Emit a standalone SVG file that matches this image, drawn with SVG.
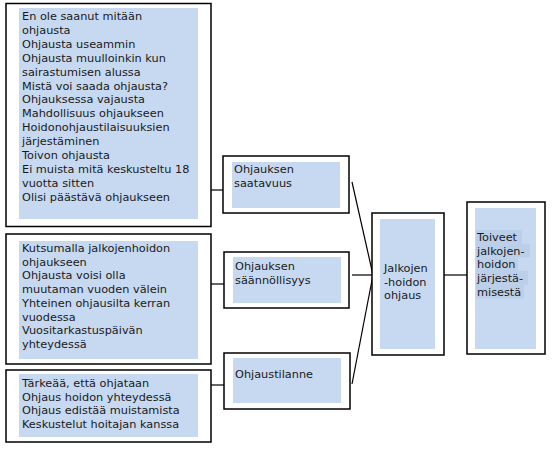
<svg xmlns="http://www.w3.org/2000/svg" width="553" height="450" viewBox="0 0 553 450">
<style>
.box{fill:#ffffff;stroke:#000000;stroke-width:1.5}
.fill{fill:#c6d9f1}
.hl{fill:#bccfe8}
.t{font-family:"DejaVu Sans",Verdana,sans-serif;font-size:11.3px;fill:#1a1a1a}
.c{stroke:#000000;stroke-width:1.2;fill:none}
</style>
<rect width="553" height="450" fill="#ffffff"/>
<g id="connectors">
<line class="c" x1="211" y1="190" x2="223" y2="190"/>
<line class="c" x1="211" y1="284" x2="224" y2="284"/>
<line class="c" x1="211" y1="385" x2="224" y2="385"/>
<line class="c" x1="352" y1="182" x2="373" y2="275"/>
<line class="c" x1="352" y1="275" x2="373" y2="275"/>
<line class="c" x1="352" y1="384" x2="373" y2="275"/>
<line class="c" x1="444" y1="275" x2="467" y2="275"/>
</g>
<g id="box-comments-1">
<rect class="box" x="6" y="3.5" width="205" height="223"/>
<rect class="fill" x="19" y="8" width="179" height="211"/>
<text class="t" x="22" y="20">En ole saanut mitään</text>
<text class="t" x="22" y="33.9">ohjausta</text>
<text class="t" x="22" y="47.8">Ohjausta useammin</text>
<text class="t" x="22" y="61.7">Ohjausta muulloinkin kun</text>
<text class="t" x="22" y="75.6">sairastumisen alussa</text>
<text class="t" x="22" y="89.5">Mistä voi saada ohjausta?</text>
<text class="t" x="22" y="103.4">Ohjauksessa vajausta</text>
<text class="t" x="22" y="117.3">Mahdollisuus ohjaukseen</text>
<text class="t" x="22" y="131.2">Hoidonohjaustilaisuuksien</text>
<text class="t" x="22" y="145.1">järjestäminen</text>
<text class="t" x="22" y="159">Toivon ohjausta</text>
<text class="t" x="22" y="172.9">Ei muista mitä keskusteltu 18</text>
<text class="t" x="22" y="186.8">vuotta sitten</text>
<text class="t" x="22" y="200.7">Olisi päästävä ohjaukseen</text>
</g>
<g id="box-comments-2">
<rect class="box" x="6" y="234" width="205" height="130"/>
<rect class="fill" x="19" y="241" width="179" height="118"/>
<text class="t" x="22" y="252">Kutsumalla jalkojenhoidon</text>
<text class="t" x="22" y="265.7">ohjaukseen</text>
<text class="t" x="22" y="279.4">Ohjausta voisi olla</text>
<text class="t" x="22" y="293.1">muutaman vuoden välein</text>
<text class="t" x="22" y="306.8">Yhteinen ohjausilta kerran</text>
<text class="t" x="22" y="320.5">vuodessa</text>
<text class="t" x="22" y="334.2">Vuositarkastuspäivän</text>
<text class="t" x="22" y="347.9">yhteydessä</text>
</g>
<g id="box-comments-3">
<rect class="box" x="6" y="370" width="205" height="72"/>
<rect class="fill" x="19" y="374" width="179" height="63"/>
<text class="t" x="22" y="387">Tärkeää, että ohjataan</text>
<text class="t" x="22" y="400.7">Ohjaus hoidon yhteydessä</text>
<text class="t" x="22" y="414.4">Ohjaus edistää muistamista</text>
<text class="t" x="22" y="428.1">Keskustelut hoitajan kanssa</text>
</g>
<g id="node-saatavuus">
<rect class="box" x="223" y="156" width="126" height="57"/>
<rect class="fill" x="232" y="162" width="108" height="46"/>
<text class="t" x="234" y="173">Ohjauksen</text>
<text class="t" x="234" y="187">saatavuus</text>
</g>
<g id="node-saannollisyys">
<rect class="box" x="224" y="252" width="125" height="56"/>
<rect class="fill" x="233" y="257" width="108" height="46"/>
<text class="t" x="235" y="270">Ohjauksen</text>
<text class="t" x="235" y="284">säännöllisyys</text>
</g>
<g id="node-ohjaustilanne">
<rect class="box" x="224" y="353" width="126" height="56"/>
<rect class="fill" x="233" y="358" width="108" height="45"/>
<text class="t" x="235" y="378">Ohjaustilanne</text>
</g>
<g id="node-jalkojenhoidon-ohjaus">
<rect class="box" x="372" y="213" width="72" height="142"/>
<rect class="fill" x="380" y="219" width="55" height="130"/>
<text class="t" x="384" y="272">Jalkojen</text>
<text class="t" x="384" y="285.7">-hoidon</text>
<text class="t" x="384" y="299.4">ohjaus</text>
</g>
<g id="node-toiveet">
<rect class="box" x="467" y="202" width="78" height="152"/>
<rect class="fill" x="475" y="208" width="61" height="141"/>
<rect class="hl" x="476" y="230" width="46" height="13.7"/>
<rect class="hl" x="476" y="243.7" width="54" height="13.7"/>
<rect class="hl" x="476" y="257.4" width="42" height="13.7"/>
<rect class="hl" x="476" y="271.1" width="52" height="13.7"/>
<rect class="hl" x="476" y="284.8" width="48" height="13.7"/>
<text class="t" x="477" y="241">Toiveet</text>
<text class="t" x="477" y="254.7">jalkojen-</text>
<text class="t" x="477" y="268.4">hoidon</text>
<text class="t" x="477" y="282.1">järjestä-</text>
<text class="t" x="477" y="295.8">misestä</text>
</g>
</svg>
